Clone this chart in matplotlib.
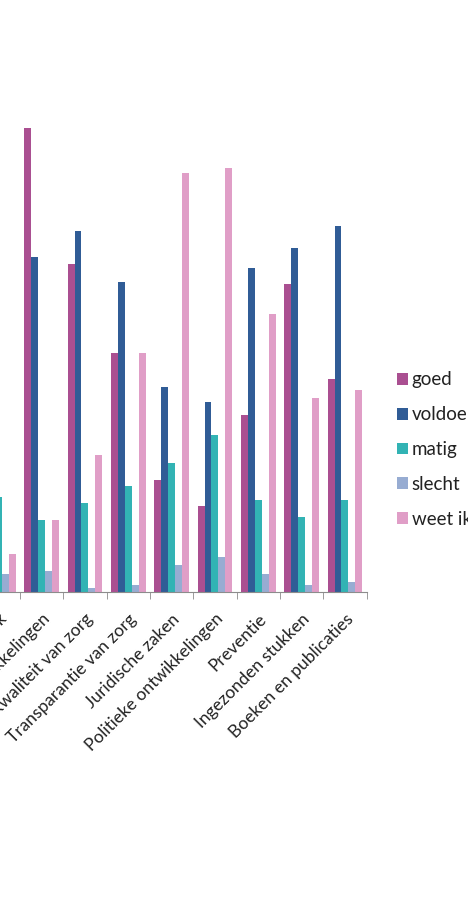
import matplotlib
matplotlib.use("Agg")
import matplotlib.pyplot as plt
import numpy as np

categories = ["Wetenschappelijk onderzoek", "Medische ontwikkelingen", "Kwaliteit van zorg",
              "Transparantie van zorg", "Juridische zaken", "Politieke ontwikkelingen",
              "Preventie", "Ingezonden stukken", "Boeken en publicaties"]
series = ["goed", "voldoende", "matig", "slecht", "weet ik niet"]
goed = [20.0, 46.4, 32.8, 23.9, 11.2, 8.6, 17.7, 30.8, 21.3]
voldoende = [30.0, 33.5, 36.1, 31.0, 20.5, 19.0, 32.4, 34.4, 36.6]
matig = [9.5, 7.2, 8.9, 10.6, 12.9, 15.7, 9.2, 7.5, 9.2]
slecht = [1.8, 2.1, 0.4, 0.7, 2.7, 3.5, 1.8, 0.7, 1.0]
weet_ik_niet = [3.8, 7.2, 13.7, 23.9, 41.9, 42.4, 27.8, 19.4, 20.2]

colors = ["#AA4F91", "#305C96", "#32B3B4", "#97ACD2", "#E09EC7"]
data = [goed, voldoende, matig, slecht, weet_ik_niet]

plt.rcParams['font.family'] = ['Lato', 'DejaVu Sans']
W, H = 468, 898
fig = plt.figure(figsize=(W / 100, H / 100), dpi=100)
fig.patch.set_facecolor("white")

n = len(categories)
left_px = 20 - 43.4
right_px = 366.6
base_px = 592
top_px = 92
ax = fig.add_axes([left_px / W, (H - base_px) / H, (right_px - left_px) / W, (base_px - top_px) / H])

x = np.arange(n)
bw = 0.16
for i, (vals, c, s) in enumerate(zip(data, colors, series)):
    ax.bar(x + (i - 2) * bw, vals, width=bw, color=c, label=s, edgecolor="none")

ax.set_xlim(-0.5, n - 0.5)
ax.set_ylim(0, 50)
for sp in ["top", "right", "left"]:
    ax.spines[sp].set_visible(False)
ax.spines["bottom"].set_color("#8C8C8C")
ax.set_yticks([])
ax.set_xticks(x)
ax.set_xticklabels(categories, rotation=45, ha="right", rotation_mode="anchor", fontsize=12.5, color="#222222")
ax.tick_params(axis="x", which="major", length=0, pad=13.5)
ax.set_xticks(np.arange(n + 1) - 0.5, minor=True)
ax.tick_params(axis="x", which="minor", length=5, color="#8C8C8C")

handles, labels = ax.get_legend_handles_labels()
leg = fig.legend(handles, labels, loc="upper left", bbox_to_anchor=(397 / W, 1 - 371.5 / H),
                 frameon=False, fontsize=13.5, handlelength=0.58, handleheight=0.58,
                 handletextpad=0.2, labelspacing=0.95, borderaxespad=0, borderpad=0)
for t in leg.get_texts():
    t.set_color("#222222")

fig.savefig("out.png", dpi=100, facecolor="white")
